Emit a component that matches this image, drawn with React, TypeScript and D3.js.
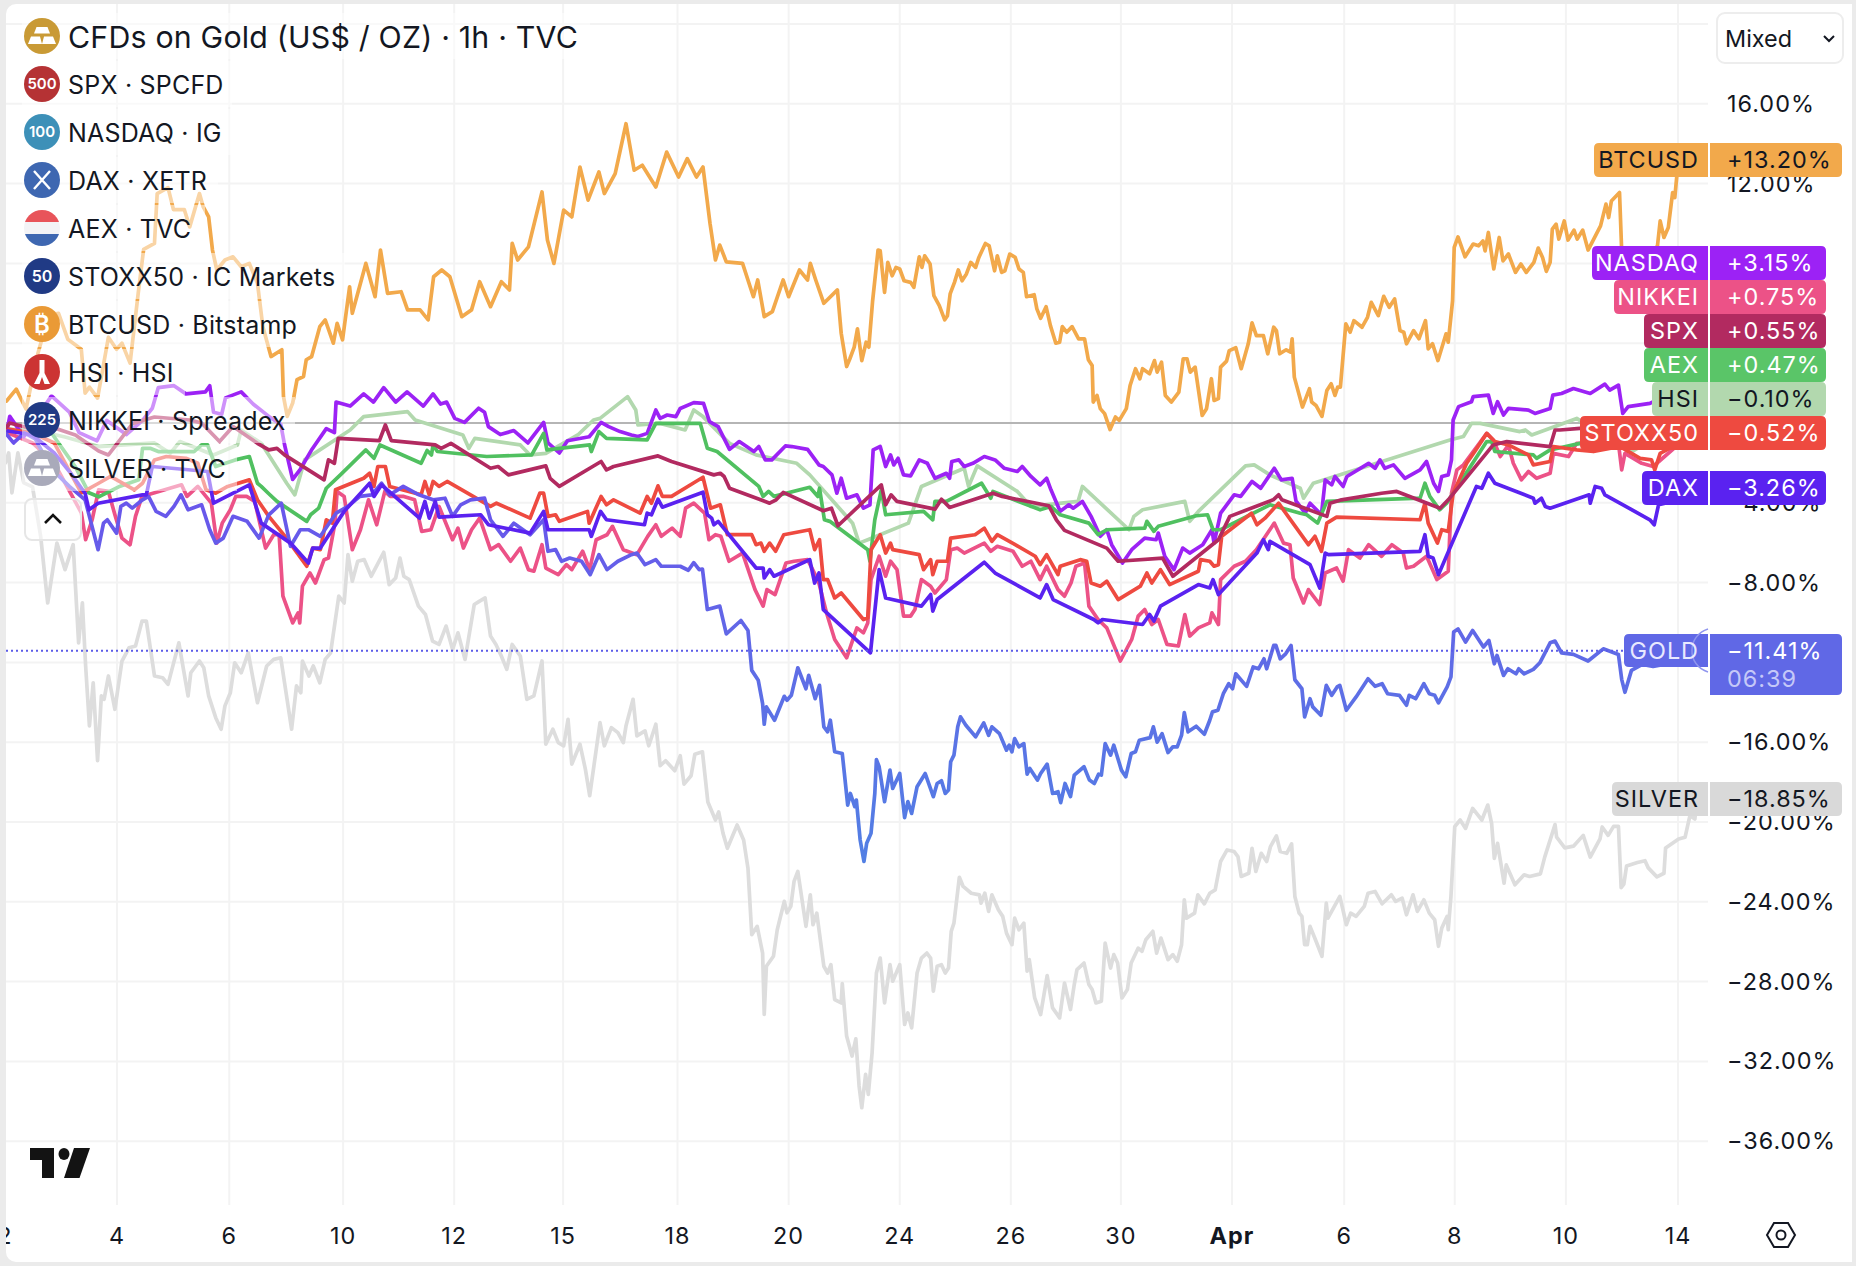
import React from "react";
import * as d3 from "d3";

type P = [number, number];
const FONT = "Inter, 'Noto Sans', sans-serif";

const btcPts: P[] = [[12,1.1],[30,1.7],[48,0.7],[70,3.5],[90,5.4],[108,5.5],[125,4.2],[150,3.7],[157,1.5],[165,1.8],[180,1.25],[200,4.3],[215,3.7],[225,4.0],[240,3.0],[255,6.5],[265,8.7],[285,9.0],[290,11.5],[310,11.8],[320,10.7],[340,10.7],[350,9.83],[368,11.5],[375,10.83],[385,10.33],[392,8.67],[400,7.67],[415,8.17],[430,8.33],[445,7.83],[460,8.0],[475,7.0],[485,4.83],[500,3.33],[520,3.67],[523,1.33],[530,0.33],[540,1.0],[548,2.17],[560,2.33],[565,3.17],[575,3.33],[590,4.83],[600,5.17],[615,4.0],[622,5.0],[632,4.17],[645,6.83],[650,5.5],[675,8.0],[692,6.33],[702,8.67],[715,6.5],[740,6.58],[752,5.67],[775,5.67],[790,5.17],[800,7.33],[815,7.67],[830,7.33],[852,5.33],[870,5.67],[885,7.08],[905,5.83],[925,7.08],[940,6.67],[945,9.0],[955,8.17],[975,8.83],[1000,11.58],[1010,9.17],[1022,8.0],[1040,10.67],[1055,10.33],[1070,12.83],[1085,11.17],[1105,12.58],[1115,11.5],[1135,12.5],[1155,15.0],[1170,12.67],[1185,12.92],[1210,11.83],[1230,13.58],[1252,12.33],[1268,13.25],[1285,12.33],[1297,12.83],[1310,10.0],[1320,8.17],[1328,8.92],[1340,8.08],[1370,8.0],[1390,6.33],[1398,7.17],[1410,5.33],[1425,5.58],[1445,7.17],[1455,6.33],[1475,7.67],[1490,7.17],[1495,8.0],[1505,7.17],[1520,6.0],[1545,6.67],[1552,4.5],[1562,2.83],[1568,3.22],[1576,3.8],[1582,4.72],[1590,3.13],[1598,4.05],[1603,3.8],[1610,6.13],[1620,8.67],[1624,8.63],[1632,6.55],[1638,8.05],[1646,7.38],[1653,7.8],[1660,7.72],[1668,7.13],[1680,7.05],[1686,6.8],[1696,8.33],[1701,7.8],[1706,8.38],[1716,7.97],[1723,6.38],[1733,5.88],[1743,5.17],[1748,5.38],[1753,6.47],[1761,7.05],[1768,7.67],[1775,7.13],[1783,7.47],[1791,8.05],[1800,7.8],[1806,8.3],[1818,9.0],[1825,8.88],[1835,7.63],[1840,8.38],[1848,7.55],[1854,7.63],[1863,8.47],[1873,8.3],[1880,7.72],[1888,7.55],[1894,6.33],[1908,6.43],[1913,5.72],[1920,5.25],[1930,5.83],[1938,4.88],[1948,4.0],[1955,4.05],[1960,4.83],[1968,4.55],[1978,4.83],[1990,4.22],[2001,4.22],[2008,3.17],[2015,2.88],[2017,1.05],[2024,1.38],[2030,0.72],[2038,0.47],[2048,-0.33],[2058,0.3],[2065,0.13],[2078,0.72],[2085,1.88],[2095,2.72],[2103,2.22],[2108,2.72],[2121,2.47],[2130,3.13],[2135,2.55],[2143,3.05],[2150,1.38],[2161,1.05],[2175,1.55],[2183,3.22],[2190,3.22],[2196,2.55],[2205,2.8],[2218,0.38],[2226,0.72],[2235,2.22],[2240,1.13],[2248,1.22],[2252,2.8],[2263,3.1],[2268,3.63],[2280,3.77],[2290,2.72],[2303,3.97],[2310,5.02],[2318,4.38],[2331,4.38],[2339,3.47],[2350,4.8],[2355,4.63],[2361,3.47],[2373,3.67],[2381,3.55],[2384,4.22],[2388,2.3],[2403,0.8],[2416,1.72],[2420,1.05],[2428,0.88],[2439,0.33],[2448,1.63],[2456,1.97],[2463,1.38],[2468,1.8],[2473,1.8],[2483,4.97],[2491,4.55],[2498,5.13],[2513,4.8],[2523,5.3],[2530,6.05],[2543,5.38],[2553,6.35],[2563,5.8],[2573,6.22],[2583,4.63],[2590,4.55],[2595,3.97],[2608,4.63],[2618,4.22],[2630,5.13],[2635,3.72],[2643,3.97],[2653,3.13],[2668,4.47],[2672,4.05],[2680,6.13],[2683,8.8],[2690,9.33],[2703,8.33],[2718,8.97],[2728,8.88],[2736,9.13],[2740,8.63],[2746,9.55],[2756,7.72],[2766,9.3],[2773,8.13],[2783,8.47],[2796,7.55],[2806,7.97],[2816,7.55],[2830,8.05],[2838,8.77],[2846,8.3],[2853,7.6],[2860,8.05],[2864,9.72],[2871,9.97],[2876,9.22],[2886,10.13],[2893,9.17],[2904,9.67],[2910,9.22],[2920,9.67],[2930,8.67],[2953,9.88],[2963,10.97],[2968,10.3],[2973,11.13],[2988,11.55],[2992,8.63],[3008,7.97],[3038,8.13],[3058,8.88],[3063,10.13],[3070,9.3],[3078,9.8],[3086,11.55],[3090,11.3],[3094,12.47],[3103,13.13],[3131,13.2]];

const goldPts: P[] = [[10,-0.5],[25,-1],[45,-0.5],[65,-0.8],[95,-2.3],[128,-3.18],[157,-3.85],[181,-6.35],[191,-5.02],[198,-4.85],[215,-5.52],[223,-4.18],[233,-4.02],[244,-4.27],[263,-3.85],[274,-3.68],[288,-4.43],[306,-4.68],[321,-4.18],[334,-3.6],[347,-4.35],[372,-4.1],[387,-5.35],[398,-6.02],[412,-5.77],[430,-4.68],[456,-4.93],[478,-5.77],[496,-4.6],[519,-4.02],[536,-6.18],[554,-5.35],[569,-5.35],[591,-5.68],[620,-4.52],[642,-4.18],[664,-3.68],[686,-3.6],[704,-3.02],[719,-3.6],[744,-3.18],[773,-3.6],[799,-3.85],[821,-3.77],[835,-4.68],[850,-4.1],[868,-3.85],[894,-3.77],[905,-4.85],[928,-5.68],[948,-5.02],[978,-5.6],[1003,-4.85],[1011,-6.43],[1025,-6.35],[1036,-6.93],[1051,-6.77],[1073,-6.93],[1089,-7.6],[1105,-6.6],[1120,-7.35],[1140,-6.93],[1165,-6.6],[1175,-6.52],[1190,-7.1],[1210,-6.85],[1220,-7.18],[1255,-7.18],[1270,-7.38],[1280,-7.0],[1290,-7.35],[1296,-7.32],[1305,-9.35],[1328,-9.18],[1340,-10.57],[1367,-9.9],[1380,-10.4],[1387,-12.4],[1399,-12.9],[1407,-14.07],[1410,-15.1],[1414,-14.23],[1429,-14.9],[1447,-13.7],[1452,-13.9],[1460,-13.65],[1472,-12.27],[1487,-13.32],[1492,-12.65],[1504,-13.82],[1512,-13.15],[1520,-15.23],[1527,-15.48],[1532,-14.9],[1540,-16.48],[1554,-16.57],[1564,-19.15],[1569,-18.57],[1577,-19.23],[1580,-18.9],[1587,-20.9],[1594,-21.98],[1599,-21.07],[1607,-20.57],[1614,-18.57],[1617,-16.87],[1622,-17.23],[1632,-18.98],[1642,-17.4],[1647,-18.32],[1660,-17.57],[1669,-19.78],[1675,-18.98],[1682,-19.57],[1692,-18.23],[1707,-17.57],[1722,-18.73],[1729,-18.07],[1737,-17.93],[1744,-18.57],[1750,-18.4],[1754,-16.98],[1760,-16.65],[1767,-15.23],[1772,-14.73],[1782,-15.15],[1800,-15.73],[1815,-15.03],[1824,-15.65],[1830,-15.23],[1844,-15.57],[1857,-16.4],[1862,-16.15],[1867,-16.48],[1872,-15.82],[1880,-16.23],[1889,-16.07],[1895,-17.6],[1900,-17.32],[1914,-17.9],[1920,-17.57],[1932,-17.1],[1942,-18.57],[1952,-18.48],[1957,-19.03],[1965,-18.07],[1975,-18.73],[1982,-17.65],[2000,-17.23],[2010,-17.9],[2019,-18.07],[2027,-17.6],[2032,-17.65],[2039,-16.07],[2049,-16.65],[2055,-16.15],[2069,-17.4],[2077,-17.73],[2087,-16.57],[2095,-16.48],[2102,-15.9],[2122,-15.77],[2128,-15.23],[2135,-16],[2144,-15.57],[2155,-16.52],[2164,-16.23],[2172,-16.23],[2180,-15.65],[2185,-14.52],[2192,-15.48],[2207,-15.2],[2222,-15.6],[2232,-14.9],[2237,-14.48],[2247,-14.4],[2257,-13.57],[2267,-13.07],[2274,-13.32],[2280,-12.57],[2300,-13.2],[2312,-12.23],[2322,-12.32],[2332,-11.82],[2337,-12.32],[2350,-11.15],[2354,-11.15],[2362,-11.82],[2372,-11.57],[2382,-11.15],[2389,-12.87],[2402,-13.32],[2407,-14.73],[2417,-13.82],[2422,-14.23],[2437,-14.65],[2447,-13.15],[2457,-13.65],[2467,-13.23],[2472,-13.15],[2484,-14.4],[2502,-13.73],[2524,-12.82],[2537,-13.2],[2550,-13.07],[2560,-13.57],[2582,-13.65],[2595,-14.15],[2600,-13.65],[2612,-13.82],[2627,-13.07],[2637,-13.57],[2647,-13.65],[2654,-14.03],[2670,-13.23],[2677,-12.73],[2682,-10.48],[2690,-10.32],[2704,-10.98],[2717,-10.4],[2737,-11.23],[2747,-10.9],[2757,-12.07],[2762,-11.65],[2774,-12.65],[2782,-12.32],[2797,-12.57],[2802,-12.32],[2812,-12.57],[2829,-12.35],[2841,-12.02],[2860,-11.02],[2869,-10.93],[2881,-11.52],[2903,-11.6],[2930,-11.93],[2958,-11.32],[2986,-11.6],[2992,-12.85],[2998,-13.5],[3010,-12.4],[3030,-12.1],[3050,-12.2],[3070,-12.1],[3090,-11.9],[3110,-11.5],[3131,-11.41]];

const silverPts: P[] = [[10,-2],[16,-1.5],[22,-3.5],[33,-1.5],[44,-3],[60,-3.2],[75,-5.68],[88,-9.02],[105,-6.02],[120,-7.35],[135,-6.1],[145,-11.02],[152,-9.02],[158,-12.18],[165,-15.18],[172,-13.02],[180,-16.93],[187,-13.68],[192,-13.85],[200,-12.68],[212,-14.35],[225,-11.93],[238,-11.27],[250,-11.18],[262,-9.93],[270,-9.93],[285,-12.68],[300,-12.77],[310,-13.1],[330,-11.02],[347,-13.68],[352,-12.52],[368,-11.93],[376,-12.27],[385,-13.68],[398,-14.77],[408,-15.35],[415,-14.18],[425,-13.52],[433,-12.02],[445,-12.52],[458,-11.52],[475,-14.02],[492,-12.18],[505,-11.85],[518,-11.77],[538,-15.35],[547,-13.18],[555,-13.52],[558,-11.93],[570,-12.68],[578,-12.18],[590,-13.02],[600,-11.85],[610,-11.52],[625,-8.68],[635,-9.02],[642,-6.6],[650,-7.93],[660,-6.93],[672,-6.85],[685,-7.68],[708,-6.48],[718,-8.1],[730,-7.77],[738,-6.77],[745,-7.68],[755,-7.85],[772,-9.18],[785,-9.6],[798,-10.93],[810,-11.1],[823,-10.18],[835,-11.35],[845,-10.52],[858,-11.85],[875,-9.1],[885,-8.93],[895,-8.77],[905,-10.68],[915,-11.1],[925,-11.68],[935,-12.35],[945,-11.1],[960,-11.68],[972,-13.85],[985,-13.68],[1000,-11.93],[1007,-16.1],[1020,-15.35],[1030,-16.02],[1040,-16.18],[1048,-14.85],[1055,-17.1],[1070,-16.1],[1080,-17.35],[1088,-18.68],[1107,-15.02],[1115,-16.18],[1128,-15.27],[1140,-15.52],[1150,-16.02],[1155,-15.18],[1168,-13.85],[1175,-15.68],[1190,-15.43],[1197,-16.18],[1210,-15.1],[1218,-17.18],[1228,-16.93],[1245,-17.43],[1255,-16.68],[1262,-18.1],[1275,-17.68],[1282,-16.6],[1296,-16.48],[1306,-19],[1320,-19.9],[1326,-19.5],[1334,-20.57],[1342,-21.32],[1360,-20.15],[1372,-20.9],[1380,-22.32],[1387,-25.65],[1397,-25.23],[1407,-26.57],[1410,-29.65],[1414,-27.23],[1427,-26.73],[1434,-25.4],[1447,-23.98],[1452,-24.55],[1459,-24.23],[1465,-22.98],[1472,-22.48],[1487,-25.23],[1495,-23.65],[1500,-25.15],[1507,-24.57],[1520,-27.23],[1527,-27.57],[1533,-27.15],[1540,-28.9],[1552,-29.07],[1554,-28.1],[1562,-30.73],[1572,-31.73],[1579,-30.87],[1585,-33.23],[1590,-34.32],[1597,-32.65],[1602,-33.65],[1609,-31.57],[1617,-27.57],[1624,-26.82],[1632,-29.07],[1642,-27.15],[1647,-27.98],[1660,-27.15],[1669,-30.15],[1675,-29.57],[1682,-30.32],[1692,-27.57],[1700,-26.82],[1710,-26.57],[1717,-26.82],[1722,-28.48],[1729,-27.23],[1737,-27.15],[1744,-27.57],[1750,-27.32],[1755,-25.48],[1760,-25.07],[1770,-22.77],[1777,-23.23],[1792,-23.57],[1807,-23.65],[1810,-24.07],[1817,-23.57],[1824,-24.48],[1830,-23.65],[1842,-24.4],[1850,-24.73],[1857,-25.57],[1867,-26.15],[1872,-24.82],[1880,-25.4],[1889,-25.07],[1895,-27.48],[1899,-26.9],[1909,-28.82],[1920,-29.65],[1932,-27.7],[1942,-29.32],[1955,-29.82],[1964,-28.07],[1975,-29.4],[1982,-28.15],[1987,-27.4],[2000,-27.07],[2009,-28.15],[2015,-28.4],[2022,-29.07],[2032,-28.98],[2039,-26.07],[2049,-27.32],[2055,-26.65],[2062,-27.07],[2070,-28.82],[2080,-28.4],[2087,-27.07],[2100,-26.32],[2107,-26.48],[2114,-25.9],[2127,-25.48],[2134,-26.57],[2142,-25.82],[2155,-26.9],[2164,-26.65],[2172,-26.98],[2180,-26.15],[2185,-23.9],[2189,-24.82],[2204,-24.57],[2210,-23.65],[2222,-24.1],[2232,-23.57],[2242,-23.4],[2252,-21.98],[2264,-21.4],[2277,-21.48],[2284,-21.73],[2290,-22.73],[2304,-22.57],[2310,-21.32],[2317,-22.48],[2327,-21.57],[2337,-21.98],[2344,-21.23],[2355,-20.7],[2362,-21.48],[2374,-21.57],[2383,-21.1],[2389,-23.73],[2397,-24.57],[2402,-24.73],[2407,-26.15],[2412,-26.15],[2417,-25.23],[2427,-25.9],[2439,-26.73],[2447,-24.07],[2450,-24.82],[2472,-23.73],[2484,-25.15],[2492,-24.57],[2502,-24.73],[2517,-24.23],[2524,-23.57],[2537,-23.48],[2550,-24.1],[2567,-23.65],[2575,-23.98],[2587,-23.82],[2595,-24.65],[2607,-23.65],[2615,-24.48],[2627,-23.9],[2637,-24.57],[2647,-24.9],[2654,-26.23],[2660,-25.32],[2670,-24.73],[2672,-25.4],[2677,-23.73],[2684,-20.23],[2694,-19.9],[2704,-20.32],[2717,-19.32],[2734,-19.9],[2745,-19.15],[2752,-20.07],[2757,-21.82],[2763,-21.07],[2775,-23.07],[2779,-22.15],[2795,-23.15],[2812,-22.65],[2822,-22.73],[2842,-22.6],[2850,-21.76],[2869,-20.13],[2872,-20.76],[2887,-21.3],[2903,-21.21],[2921,-20.67],[2934,-21.76],[2952,-20.85],[2956,-20.25],[2967,-20.67],[2977,-20.22],[2986,-20.22],[2991,-23.29],[2996,-23.11],[3001,-22.21],[3021,-22.03],[3035,-21.94],[3041,-22.3],[3057,-22.75],[3070,-22.57],[3073,-21.3],[3097,-20.85],[3109,-20.76],[3118,-19.67],[3127,-19.85],[3131,-18.85]];

const nasdaqPts: P[] = [[12,-0.5],[18,0.33],[44,-0.69],[95,1.36],[128,0.54],[146,-0.48],[179,-0.89],[197,0.13],[233,-0.58],[263,0.13],[281,0.74],[292,1.77],[321,1.87],[343,1.46],[379,1.56],[387,1.87],[394,0.54],[409,0.44],[416,1.26],[445,1.56],[467,0.95],[496,0.33],[518,-0.07],[525,-1.09],[540,-2.83],[554,-2.32],[576,-1.3],[602,-0.28],[617,-0.48],[620,1.05],[646,0.85],[671,1.46],[689,1.05],[708,1.77],[730,1.05],[751,1.56],[781,0.85],[799,1.46],[813,0.95],[824,1.05],[839,0.23],[857,0.03],[883,0.74],[894,0.54],[901,-0.18],[923,-0.58],[948,-0.38],[974,-1.0],[1003,0.03],[1011,-1.0],[1032,-1.5],[1047,-0.89],[1087,-0.69],[1109,0.03],[1123,-0.18],[1144,-0.43],[1165,-0.6],[1177,-0.68],[1194,-0.52],[1210,0.65],[1218,0.23],[1231,0.4],[1247,0.32],[1255,0.73],[1280,1.02],[1298,0.98],[1309,0.07],[1325,-0.18],[1346,-1.32],[1364,-0.93],[1391,-1.43],[1400,-1.18],[1412,-1.85],[1424,-1.85],[1449,-1.15],[1461,-1.18],[1490,-1.32],[1511,-2.1],[1519,-2.18],[1535,-2.6],[1544,-3.52],[1552,-2.77],[1562,-3.77],[1581,-3.6],[1593,-4.27],[1605,-4.1],[1611,-1.35],[1624,-1.18],[1634,-2.18],[1643,-1.6],[1649,-2.1],[1657,-1.77],[1667,-2.6],[1680,-2.65],[1696,-1.85],[1711,-2.02],[1725,-2.77],[1746,-2.52],[1752,-2.77],[1756,-1.93],[1769,-1.85],[1779,-2.18],[1795,-2.02],[1816,-1.68],[1836,-1.85],[1853,-2.27],[1877,-2.43],[1886,-2.18],[1902,-2.68],[1919,-3.1],[1931,-2.77],[1939,-3.35],[1956,-4.43],[1972,-4.1],[1980,-4.27],[1997,-3.93],[2013,-4.68],[2030,-5.68],[2042,-5.35],[2051,-6.1],[2071,-7.02],[2088,-6.35],[2112,-5.77],[2133,-5.85],[2137,-5.52],[2149,-6.68],[2166,-7.35],[2182,-6.27],[2195,-6.52],[2219,-6.1],[2236,-5.35],[2240,-6.02],[2252,-4.52],[2277,-3.6],[2289,-3.68],[2310,-2.93],[2326,-3.27],[2351,-2.27],[2364,-2.85],[2384,-2.77],[2391,-3.9],[2408,-4.52],[2417,-4.02],[2438,-4.6],[2445,-2.85],[2457,-3.1],[2463,-2.68],[2478,-3.18],[2485,-2.68],[2525,-2.02],[2537,-2.27],[2546,-1.85],[2555,-2.27],[2571,-2.1],[2592,-2.77],[2620,-2.35],[2632,-1.93],[2645,-3.02],[2654,-3.43],[2660,-2.68],[2672,-2.6],[2678,-1.85],[2681,0.15],[2691,0.82],[2715,1.07],[2718,1.32],[2746,1.4],[2755,0.48],[2763,1.07],[2774,0.4],[2783,0.73],[2820,0.65],[2832,0.48],[2860,0.73],[2865,1.4],[2881,1.48],[2903,1.73],[2934,1.48],[2961,1.95],[2970,1.65],[2986,1.9],[2994,0.48],[3004,0.82],[3044,0.98],[3060,1.2],[3095,1.6],[3125,3.0],[3131,3.15]];

const spxPts: P[] = [[12,-0.2],[18,0],[60,-0.3],[95,-0.2],[139,-0.6],[182,-1.4],[200,-1.6],[245,-0.02],[285,0.3],[350,0.15],[372,0],[405,-0.93],[430,-0.18],[475,-1.02],[496,-1.35],[511,-1.27],[525,-1.6],[598,-2.85],[606,-1.85],[617,-2.02],[624,-0.77],[700,-0.88],[711,-0.1],[722,-0.88],[803,-1.1],[814,-1.27],[832,-1.02],[905,-2.27],[919,-2.18],[938,-2.6],[1007,-2.15],[1015,-2.77],[1032,-3.18],[1109,-1.93],[1119,-2.35],[1132,-2.18],[1214,-1.65],[1239,-1.93],[1317,-2.6],[1329,-2.52],[1336,-2.68],[1346,-3.27],[1420,-4.02],[1432,-3.85],[1445,-3.48],[1519,-4.4],[1534,-4.27],[1546,-5.15],[1626,-3.1],[1634,-4.1],[1644,-3.6],[1655,-3.93],[1725,-4.32],[1737,-3.82],[1752,-4.23],[1832,-3.52],[1849,-3.68],[1935,-4.15],[1949,-4.85],[1964,-5.38],[2042,-6.27],[2063,-6.93],[2145,-6.77],[2164,-7.68],[2248,-5.85],[2269,-4.68],[2349,-3.85],[2359,-3.6],[2365,-3.85],[2448,-4.68],[2454,-4.02],[2475,-3.85],[2549,-3.52],[2577,-3.43],[2657,-4.27],[2672,-3.85],[2755,-1.1],[2780,-0.93],[2860,-1.18],[2869,-0.35],[2878,-0.35],[2915,-0.27],[3000,-0.2],[3060,0.2],[3131,0.55]];

const aexPts: P[] = [[15,-0.4],[60,-0.5],[95,-0.5],[139,-2.2],[164,-3.5],[182,-3.7],[219,-3.2],[256,-2.85],[263,-1.27],[277,-1.27],[292,-1.43],[358,-1.43],[372,-1.1],[383,-1.1],[398,-2.18],[434,-1.85],[460,-1.68],[475,-3.02],[482,-3.18],[495,-3.52],[511,-3.93],[566,-4.93],[573,-4.6],[588,-4.27],[602,-3.27],[628,-2.6],[675,-1.35],[690,-1.77],[701,-1.1],[777,-2.02],[788,-1.38],[796,-1.6],[799,-1.1],[807,-1.43],[898,-1.68],[981,-1.6],[1003,-0.52],[1009,-1.35],[1088,-1.1],[1091,-1.43],[1105,-0.43],[1119,-0.77],[1194,-0.85],[1210,-0.02],[1292,-0.02],[1305,-1.27],[1323,-1.43],[1400,-3.18],[1408,-3.68],[1418,-3.43],[1428,-3.68],[1494,-3.22],[1509,-3.68],[1512,-3.27],[1521,-4.85],[1531,-4.93],[1601,-6.35],[1605,-6.93],[1614,-4.85],[1626,-3.35],[1634,-4.6],[1704,-4.43],[1721,-4.85],[1725,-3.93],[1746,-3.93],[1811,-3.02],[1828,-3.77],[1832,-3.43],[1919,-4.35],[1939,-4.18],[1956,-4.6],[2009,-5.02],[2026,-5.6],[2042,-5.35],[2112,-5.27],[2116,-4.93],[2129,-5.43],[2137,-5.18],[2207,-4.65],[2228,-4.6],[2238,-5.35],[2252,-5.35],[2343,-4.1],[2399,-4.52],[2411,-4.6],[2431,-5.02],[2448,-3.93],[2620,-3.77],[2629,-3.02],[2638,-3.68],[2656,-4.35],[2669,-4.02],[2743,-0.93],[2752,-0.93],[2758,-1.43],[2829,-1.6],[2835,-1.77],[2860,-1.35],[2915,-1.02],[3000,-0.5],[3131,0.47]];

const hsiPts: P[] = [[15,-0.3],[70,-0.4],[120,-0.7],[182,-1.18],[285,-1.0],[314,-1.52],[332,-0.93],[394,-1.6],[438,-1.1],[445,-0.35],[482,-1.02],[529,-3.02],[544,-3.6],[562,-1.85],[646,-0.35],[671,0.32],[752,0.57],[766,0.15],[854,-0.6],[865,-1.27],[876,-0.77],[960,-1.1],[978,-1.6],[1007,-1.52],[1066,-0.6],[1095,0.15],[1107,0.23],[1158,1.32],[1173,0.65],[1177,-0.1],[1218,-0.02],[1264,-0.35],[1280,0.65],[1297,0.32],[1346,-1.02],[1395,-1.6],[1470,-2.02],[1494,-2.6],[1573,-5.02],[1585,-6.02],[1601,-5.85],[1676,-5.02],[1700,-3.18],[1779,-2.27],[1787,-3.18],[1803,-2.15],[1877,-3.43],[1902,-4.18],[1989,-3.93],[1997,-3.18],[2083,-5.35],[2092,-4.68],[2108,-4.35],[2186,-3.93],[2195,-4.93],[2211,-4.43],[2298,-2.15],[2314,-2.1],[2343,-2.6],[2399,-3.27],[2405,-3.77],[2423,-3.02],[2675,-0.85],[2700,-0.68],[2715,-0.02],[2731,-0.02],[2804,-0.43],[2814,-0.35],[2826,-0.6],[2909,0.23],[2950,-0.5],[3013,-1.4],[3050,-0.8],[3131,-0.1]];

const stoxxPts: P[] = [[15,-0.3],[60,-0.5],[100,-1],[150,-3.5],[182,-3.02],[204,-2.68],[248,-3.35],[263,-3.02],[285,-1.85],[307,-1.68],[343,-1.77],[365,-2.02],[380,-3.35],[398,-3.52],[420,-3.18],[460,-2.85],[475,-3.85],[496,-4.68],[526,-5.68],[566,-7.18],[577,-6.27],[591,-6.35],[602,-4.85],[613,-5.02],[619,-3.35],[671,-2.77],[682,-2.52],[690,-3.18],[697,-2.18],[711,-2.18],[719,-3.18],[777,-3.6],[784,-2.93],[792,-3.6],[799,-2.93],[810,-3.18],[825,-2.93],[905,-4.18],[916,-4.02],[978,-4.77],[996,-3.52],[1003,-3.52],[1011,-4.68],[1025,-4.6],[1032,-4.93],[1084,-4.43],[1087,-5.02],[1109,-3.68],[1119,-4.1],[1132,-3.85],[1181,-4.52],[1194,-3.68],[1202,-4.02],[1214,-3.15],[1222,-3.68],[1239,-3.68],[1284,-2.93],[1297,-2.72],[1311,-4.27],[1329,-4.1],[1342,-5.6],[1387,-5.6],[1395,-6.1],[1404,-6.02],[1410,-6.43],[1420,-6.02],[1431,-6.43],[1446,-5.6],[1494,-5.35],[1503,-6.35],[1512,-5.85],[1519,-7.85],[1527,-7.85],[1540,-8.77],[1552,-8.52],[1593,-9.85],[1601,-9.77],[1607,-6.35],[1624,-5.6],[1634,-6.52],[1643,-6.02],[1647,-6.35],[1696,-6.6],[1704,-7.35],[1717,-6.85],[1721,-7.6],[1729,-6.93],[1748,-6.93],[1754,-5.77],[1799,-5.6],[1816,-5.27],[1830,-5.93],[1840,-5.6],[1873,-6.1],[1910,-6.68],[1919,-7.1],[1931,-6.6],[1952,-7.6],[1956,-7.18],[1993,-6.85],[2005,-6.93],[2013,-8.02],[2030,-8.18],[2042,-7.93],[2063,-8.85],[2104,-8.18],[2116,-7.52],[2125,-8.02],[2141,-7.35],[2158,-8.1],[2211,-7.43],[2215,-6.85],[2232,-6.93],[2240,-7.18],[2248,-7.1],[2254,-5.68],[2266,-5.43],[2309,-4.52],[2319,-5.1],[2334,-4.77],[2359,-4.02],[2414,-6.1],[2426,-5.68],[2438,-6.43],[2448,-5.02],[2466,-4.72],[2620,-4.85],[2629,-4.02],[2635,-5.02],[2652,-6.02],[2660,-5.35],[2672,-5.43],[2681,-3.52],[2706,-2.02],[2721,-1.43],[2743,-0.52],[2758,-0.93],[2783,-1.1],[2820,-1.6],[2829,-2.1],[2860,-1.93],[2866,-1.18],[2909,-1.35],[2940,-1.43],[2989,-1.18],[3026,-1.77],[3047,-1.85],[3053,-2.35],[3063,-1.52],[3131,-0.52]];

const nikkeiPts: P[] = [[15,-0.5],[60,-1],[100,-2],[130,-3.5],[150,-4.5],[158,-5.85],[170,-4.85],[182,-3.35],[200,-3.43],[212,-4.6],[225,-5.77],[240,-6.1],[250,-4.68],[262,-3.68],[335,-3.1],[345,-3.68],[365,-3.18],[390,-4.02],[400,-6.02],[410,-5.02],[425,-4.35],[435,-3.68],[455,-3.68],[470,-3.93],[490,-6.27],[505,-5.6],[515,-5.6],[522,-8.68],[540,-10.02],[550,-9.52],[553,-10.02],[558,-8.18],[572,-7.52],[582,-8.02],[598,-6.85],[606,-6.77],[618,-5.02],[622,-3.43],[635,-3.68],[650,-6.35],[665,-5.35],[680,-3.85],[695,-5.1],[710,-3.43],[720,-3.68],[745,-3.68],[765,-3.85],[778,-5.43],[795,-5.35],[810,-4.18],[835,-5.85],[845,-5.27],[855,-6.27],[870,-5.35],[885,-4.77],[905,-6.35],[920,-6.1],[942,-6.93],[960,-6.27],[975,-7.35],[985,-7.43],[1000,-6.1],[1007,-7.27],[1030,-7.6],[1045,-7.1],[1055,-7.35],[1075,-6.43],[1088,-7.35],[1100,-5.85],[1120,-5.6],[1130,-5.18],[1150,-6.35],[1175,-6.6],[1195,-5.68],[1210,-5.1],[1220,-5.68],[1240,-5.27],[1255,-5.68],[1265,-4.27],[1280,-4.02],[1300,-4.52],[1308,-5.85],[1320,-5.6],[1330,-5.68],[1345,-6.93],[1370,-6.52],[1393,-8.35],[1408,-9.18],[1415,-8.35],[1430,-8.6],[1450,-7.02],[1465,-6.93],[1490,-6.85],[1510,-7.93],[1525,-9.52],[1540,-10.85],[1562,-11.77],[1581,-10.27],[1593,-10.52],[1601,-10.02],[1607,-7.85],[1622,-6.68],[1634,-7.68],[1643,-6.93],[1655,-7.35],[1667,-9.68],[1680,-9.68],[1688,-9.35],[1700,-7.85],[1717,-8.18],[1725,-8.52],[1746,-7.85],[1754,-6.35],[1766,-6.27],[1779,-6.52],[1816,-6.02],[1828,-6.43],[1840,-6.18],[1869,-6.43],[1886,-7.18],[1902,-6.93],[1919,-7.85],[1931,-7.18],[1952,-8.35],[1964,-8.68],[1976,-8.02],[1985,-7.18],[2001,-7.02],[2009,-9.18],[2026,-9.85],[2042,-10.27],[2067,-11.93],[2088,-10.85],[2100,-9.68],[2112,-9.35],[2125,-10.1],[2137,-9.85],[2153,-11.1],[2174,-11.18],[2186,-9.6],[2195,-10.68],[2211,-10.27],[2232,-10.02],[2236,-9.52],[2248,-10.1],[2252,-7.85],[2277,-7.18],[2298,-6.93],[2318,-6.35],[2351,-5.02],[2368,-6.02],[2380,-6.1],[2386,-7.77],[2405,-9.02],[2414,-8.35],[2435,-9.1],[2445,-7.52],[2466,-7.27],[2478,-7.93],[2488,-6.35],[2509,-6.77],[2525,-6.1],[2549,-6.68],[2568,-6.1],[2589,-6.52],[2595,-7.27],[2608,-7.18],[2632,-6.68],[2651,-7.85],[2672,-7.43],[2678,-3.52],[2688,-2.35],[2700,-2.1],[2743,-0.52],[2755,-0.85],[2768,-1.68],[2783,-1.1],[2792,-2.02],[2807,-2.85],[2820,-2.43],[2835,-2.77],[2860,-2.52],[2866,-1.52],[2894,-1.68],[2909,-1.02],[2986,-1.02],[2992,-2.35],[2998,-1.52],[3029,-2.02],[3050,-2.18],[3100,-1],[3131,0.75]];

const daxPts: P[] = [[15,-0.4],[60,-0.6],[100,-1.5],[130,-2.5],[157,-3.52],[164,-4.35],[181,-4.02],[263,-3.6],[270,-3.6],[281,-2.18],[383,-2.43],[394,-4.02],[460,-3.1],[482,-5.02],[536,-6.02],[569,-7.02],[577,-6.27],[591,-6.27],[635,-4.43],[682,-3.02],[690,-3.68],[704,-3.1],[774,-4.77],[784,-3.93],[792,-4.77],[803,-3.93],[810,-4.72],[887,-4.6],[901,-5.1],[978,-5.52],[1003,-4.43],[1011,-5.35],[1087,-5.35],[1091,-5.68],[1108,-4.43],[1119,-4.85],[1189,-5.1],[1194,-4.52],[1202,-4.6],[1214,-3.82],[1222,-4.22],[1297,-3.47],[1305,-4.6],[1313,-4.77],[1317,-5.1],[1325,-4.93],[1395,-7.27],[1408,-7.27],[1410,-7.77],[1420,-7.35],[1428,-7.68],[1494,-6.85],[1503,-8.02],[1511,-7.52],[1519,-9.35],[1606,-11.52],[1622,-7.35],[1634,-8.77],[1700,-9.18],[1717,-8.6],[1721,-9.43],[1729,-8.85],[1816,-6.98],[1836,-7.52],[1919,-8.77],[1931,-8.1],[1943,-8.85],[2018,-9.85],[2026,-10.02],[2034,-9.85],[2108,-10.1],[2121,-9.6],[2129,-9.93],[2141,-9.18],[2211,-8.1],[2232,-8.27],[2238,-7.85],[2248,-8.6],[2319,-6.52],[2331,-5.85],[2340,-6.35],[2343,-5.93],[2417,-7.1],[2435,-8.27],[2445,-6.52],[2451,-6.6],[2620,-6.43],[2629,-5.6],[2635,-6.68],[2644,-6.77],[2654,-7.6],[2724,-3.18],[2734,-3.27],[2746,-2.52],[2758,-3.02],[2829,-3.77],[2832,-4.02],[2844,-3.77],[2851,-4.18],[2860,-4.27],[2932,-3.6],[2934,-4.02],[2943,-3.18],[2955,-3.27],[2961,-3.6],[3044,-4.85],[3052,-5.1],[3060,-4.1],[3072,-4.02],[3131,-3.26]];

const C = {
  btc: "#F2A94B", gold: "#6068E6", silver: "#DDDDDD", nasdaq: "#9C22F5", spx: "#B22A60",
  aex: "#50C060", hsi: "#B2D8AE", stoxx: "#EE4A40", nikkei: "#EC5287", dax: "#5A22F0",
};

const drawOrder: [P[], string][] = [
  [silverPts, C.silver], [hsiPts, C.hsi], [btcPts, C.btc], [nikkeiPts, C.nikkei], [nasdaqPts, C.nasdaq],
  [aexPts, C.aex], [stoxxPts, C.stoxx], [goldPts, "url(#goldGrad)"], [daxPts, C.dax], [spxPts, C.spx],
];

const yTicks = [20, 16, 12, 8, 4, 0, -4, -8, -12, -16, -20, -24, -28, -32, -36];
const xTicks: [number, string][] = [[9,"2"],[216,"4"],[423,"6"],[633,"10"],[838,"12"],[1039,"15"],[1250,"18"],[1455,"20"],[1660,"24"],[1865,"26"],[2068,"30"],[2273,"Apr"],[2480,"6"],[2684,"8"],[2889,"10"],[3096,"14"]];

const tagNames = ["BTCUSD","NASDAQ","NIKKEI","SPX","AEX","HSI","STOXX50","DAX","SILVER"];
const tagValues = ["+13.20%","+3.15%","+0.75%","+0.55%","+0.47%","−0.10%","−0.52%","−3.26%","−18.85%"];
const tagCentres = [160, 263, 297, 331, 365, 399, 433, 488, 799];
const tagLeft = [1594,1592,1614,1644,1644,1652,1580,1642,1612];
const tagRight = [1842,1826,1826,1826,1826,1826,1826,1826,1842];
const tagFill = [C.btc,C.nasdaq,C.nikkei,C.spx,"#5AC568",C.hsi,C.stoxx,C.dax,"#D9D9D9"];
const tagText = ["#131722","#fff","#fff","#fff","#fff","#131722","#fff","#fff","#131722"];

const legendRows = ["CFDs on Gold (US$ / OZ) · 1h · TVC","SPX · SPCFD","NASDAQ · IG","DAX · XETR","AEX · TVC","STOXX50 · IC Markets","BTCUSD · Bitstamp","HSI · HSI","NIKKEI · Spreadex","SILVER · TVC"];
const legendEnds = [590,232,232,218,205,345,310,185,295,237];

const PANE_R = 1708, PANE_B = 1205;
const x = d3.scaleLinear().domain([0, 3424.3]).range([0, 1856]);
const y = d3.scaleLinear().domain([0, -36]).range([423, 1141.2]);
const line = d3.line<P>().x(d => x(d[0])).y(d => y(d[1])).curve(d3.curveLinear);

function Bars({ cx, cy }: { cx: number; cy: number }) {
  return (
    <g fill="#fff" transform={`translate(${cx},${cy})`}>
      <path d="M-5.5 -9 H5.5 L8 -2.5 H-8 Z" />
      <path d="M-14 8 L-11 0.5 H-2 L0 8 Z" />
      <path d="M0 8 L2 0.5 H11 L14 8 Z" />
    </g>
  );
}

function Icon({ i, cy }: { i: number; cy: number }) {
  const cx = 42, r = 18;
  const t = (s: string, size: number, col = "#fff") => (
    <text x={cx} y={cy + size * 0.36} textAnchor="middle" fontSize={size} fontWeight={600} fill={col} fontFamily={FONT}>{s}</text>
  );
  switch (i) {
    case 0: return <g><circle cx={cx} cy={cy} r={r} fill="#C99A35" /><Bars cx={cx} cy={cy} /></g>;
    case 1: return <g><circle cx={cx} cy={cy} r={r} fill="#B53234" />{t("500", 15)}</g>;
    case 2: return <g><circle cx={cx} cy={cy} r={r} fill="#3D90B8" />{t("100", 15)}</g>;
    case 3: return (
      <g>
        <circle cx={cx} cy={cy} r={r} fill="#3E67B1" />
        <path d={`M${cx - 8} ${cy - 9} Q${cx} ${cy} ${cx + 8} ${cy + 9} M${cx + 8} ${cy - 9} Q${cx} ${cy} ${cx - 8} ${cy + 9}`} stroke="#fff" strokeWidth={2.4} fill="none" />
      </g>
    );
    case 4: return (
      <g>
        <clipPath id="aexClip"><circle cx={cx} cy={cy} r={r} /></clipPath>
        <g clipPath="url(#aexClip)">
          <rect x={cx - r} y={cy - r} width={36} height={12} fill="#E8545A" />
          <rect x={cx - r} y={cy - 6} width={36} height={12} fill="#F3F3F6" />
          <rect x={cx - r} y={cy + 6} width={36} height={12} fill="#3E67B1" />
        </g>
      </g>
    );
    case 5: return <g><circle cx={cx} cy={cy} r={r} fill="#203A85" />{t("50", 16)}</g>;
    case 6: return <g><circle cx={cx} cy={cy} r={r} fill="#EA9A36" />{t("₿", 24)}</g>;
    case 7: return (
      <g>
        <circle cx={cx} cy={cy} r={r} fill="#CC3433" />
        <path d={`M${cx - 2.5} ${cy - 12} L${cx - 2.5} ${cy + 1} L${cx - 8} ${cy + 12} L${cx - 2.5} ${cy + 12} L${cx} ${cy + 5} L${cx + 2.5} ${cy + 12} L${cx + 8} ${cy + 12} L${cx + 2.5} ${cy + 1} L${cx + 2.5} ${cy - 12} Z`} fill="#fff" />
      </g>
    );
    case 8: return <g><circle cx={cx} cy={cy} r={r} fill="#203A85" />{t("225", 15)}</g>;
    default: return <g><circle cx={cx} cy={cy} r={r} fill="#A9AABA" /><Bars cx={cx} cy={cy} /></g>;
  }
}

export default function App() {
  const axisFont = { fontFamily: FONT, fontSize: 23.4, letterSpacing: 1, fill: "#131722" };
  return (
    <svg width={1856} height={1266} style={{ position: "fixed", left: 0, top: 0 }} fontFamily={FONT}>
      <defs>
        <clipPath id="pane"><rect x={6} y={4} width={PANE_R - 6} height={PANE_B - 4} /></clipPath>
        <linearGradient id="goldGrad" gradientUnits="userSpaceOnUse" x1={0} x2={0} y1={470} y2={860}>
          <stop offset="0" stopColor="#6A52EC" />
          <stop offset="0.5" stopColor="#5F6CE6" />
          <stop offset="1" stopColor="#527FE4" />
        </linearGradient>
      </defs>
      <rect width={1856} height={1266} fill="#EBEBEB" />
      <rect x={6} y={4} width={1846} height={1258} rx={10} fill="#fff" />

      <g stroke="#F3F3F3" strokeWidth={2}>
        {yTicks.map(v => <line key={v} x1={6} x2={PANE_R} y1={y(v)} y2={y(v)} />)}
        {xTicks.slice(1).map(([t, s]) => <line key={t + s} x1={x(t)} x2={x(t)} y1={4} y2={PANE_B} />)}
      </g>

      <line x1={6} x2={PANE_R} y1={y(0)} y2={y(0)} stroke="#B5B5B5" strokeWidth={2} />

      <g clipPath="url(#pane)" fill="none" strokeWidth={3.7} strokeLinejoin="round" strokeLinecap="round">
        {drawOrder.map(([pts, col], i) => <path key={i} d={line(pts) ?? ""} stroke={col} />)}
      </g>
      <line x1={6} x2={PANE_R} y1={y(-11.41)} y2={y(-11.41)} stroke="#5B5BE8" strokeWidth={2} strokeDasharray="2 3" />

      {/* legend */}
      {legendRows.map((s, i) => {
        const cy = 36 + 48 * i;
        return (
          <g key={s}>
            <rect x={22} y={cy - 23} width={legendEnds[i] - 22} height={46} fill="#fff" opacity={0.5} />
            <Icon i={i} cy={cy} />
            <text x={68} y={cy + (i === 0 ? 12 : 9.5)} fontSize={i === 0 ? 30.3 : 25} fill="#131722" letterSpacing={0.2}>{s}</text>
          </g>
        );
      })}
      <rect x={25} y={499} width={56} height={41} rx={7} fill="#fff" fillOpacity={0.6} stroke="#E6E6E6" strokeWidth={2} />
      <path d="M45 523 L53 515 L61 523" fill="none" stroke="#111" strokeWidth={2.6} />

      {/* logo */}
      <g fill="#131313">
        <path d="M30 1148 H54 V1178 H42 V1160 H30 Z" />
        <ellipse cx={64} cy={1154} rx={5.5} ry={6} />
        <path d="M74 1148 H90 L79.5 1178 H64 Z" />
      </g>

      {/* y axis */}
      <rect x={PANE_R} y={4} width={144} height={1258} fill="#fff" />
      {yTicks.slice(1).map(v => (
        <text key={v} x={1727} y={y(v) + 8} {...axisFont}>{(v < 0 ? "−" : "") + Math.abs(v).toFixed(2) + "%"}</text>
      ))}

      {/* x axis */}
      <g>
        {xTicks.map(([t, s]) => (
          <text key={t + s} x={x(t)} y={1244} textAnchor="middle" {...axisFont} fontWeight={s === "Apr" ? 700 : 400}>{s}</text>
        ))}
      </g>
      <rect x={0} y={1190} width={6} height={76} fill="#EBEBEB" />

      {/* price tags */}
      {tagNames.map((n, i) => {
        const cy = tagCentres[i];
        return (
          <g key={n}>
            <path d={`M${PANE_R} ${cy - 17} H${tagLeft[i] + 5} Q${tagLeft[i]} ${cy - 17} ${tagLeft[i]} ${cy - 12} V${cy + 12} Q${tagLeft[i]} ${cy + 17} ${tagLeft[i] + 5} ${cy + 17} H${PANE_R} Z`} fill={tagFill[i]} />
            <path d={`M1710 ${cy - 17} H${tagRight[i] - 5} Q${tagRight[i]} ${cy - 17} ${tagRight[i]} ${cy - 12} V${cy + 12} Q${tagRight[i]} ${cy + 17} ${tagRight[i] - 5} ${cy + 17} H1710 Z`} fill={tagFill[i]} />
            <text x={1699} y={cy + 8} textAnchor="end" {...axisFont} fill={tagText[i]}>{n}</text>
            <text x={1727} y={cy + 8} {...axisFont} fill={tagText[i]}>{tagValues[i]}</text>
          </g>
        );
      })}

      {/* gold tag */}
      <path d={`M1708 634 H1629 Q1624 634 1624 639 V662 Q1624 667 1629 667 H1708 Z`} fill={C.gold} />
      <path d="M1710 634 H1837 Q1842 634 1842 639 V690 Q1842 695 1837 695 H1710 Z" fill={C.gold} />
      <path d="M1708 629 A24 22 0 0 0 1692 650 A24 22 0 0 0 1708 672" fill="none" stroke="#8F95EE" strokeWidth={1.5} />
      <text x={1699} y={659} textAnchor="end" {...axisFont} fill="#E8E9FF">GOLD</text>
      <text x={1727} y={659} {...axisFont} fill="#fff">−11.41%</text>
      <text x={1727} y={687} {...axisFont} fill="#C5C8F8">06:39</text>

      {/* mixed button */}
      <rect x={1717} y={13} width={126} height={50} rx={8} fill="#fff" stroke="#EDEDED" strokeWidth={2} />
      <text x={1725} y={47} fontSize={23.4} fill="#131722">Mixed</text>
      <path d="M1824 36 L1829 41 L1834 36" fill="none" stroke="#131722" strokeWidth={2} />

      {/* settings */}
      <path d="M1767 1235 L1774 1223 H1788 L1795 1235 L1788 1247 H1774 Z" fill="none" stroke="#131722" strokeWidth={2} />
      <circle cx={1781} cy={1235} r={4.5} fill="none" stroke="#131722" strokeWidth={2} />
    </svg>
  );
}
